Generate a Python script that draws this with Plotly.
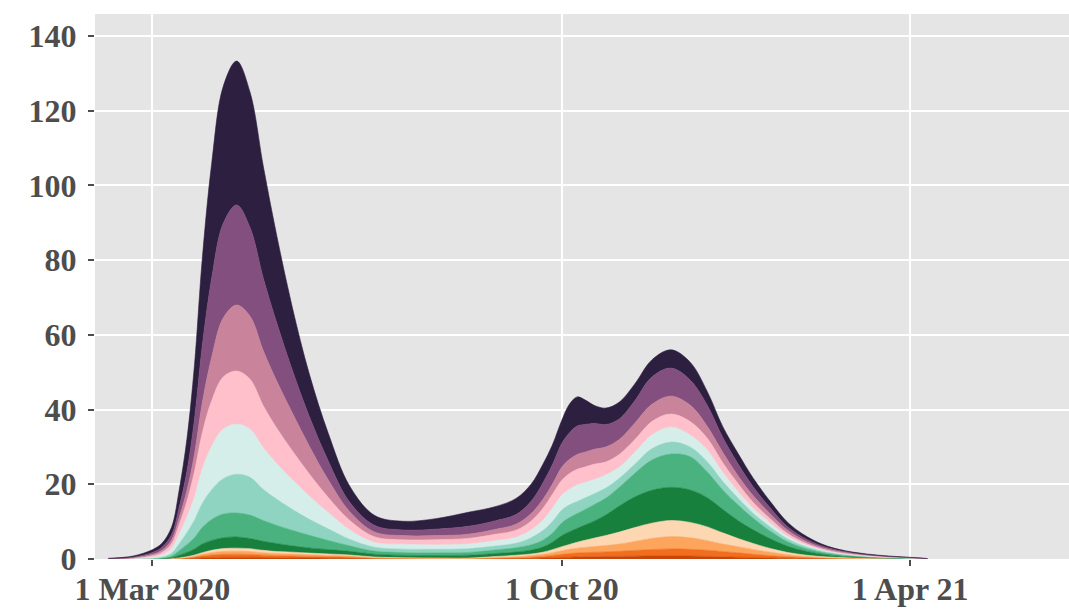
import plotly.graph_objects as go

# sample dates (spacing grows gradually where the curves are flat)
dates = [
    "2020-02-07", "2020-02-20", "2020-03-01", "2020-03-06", "2020-03-11", "2020-03-15",
    "2020-03-19", "2020-03-23", "2020-03-27", "2020-04-01", "2020-04-07", "2020-04-14",
    "2020-04-21", "2020-04-28", "2020-05-05", "2020-05-13", "2020-05-22", "2020-06-01",
    "2020-06-12", "2020-06-25", "2020-07-10", "2020-07-27", "2020-08-13",
    "2020-08-27", "2020-09-07", "2020-09-15", "2020-09-21", "2020-09-26", "2020-10-01",
    "2020-10-05", "2020-10-09", "2020-10-13", "2020-10-18", "2020-10-24", "2020-10-31",
    "2020-11-08", "2020-11-17", "2020-11-27", "2020-12-07", "2020-12-16", "2020-12-24",
    "2021-01-01", "2021-01-09", "2021-01-18", "2021-01-27", "2021-02-06", "2021-02-17",
    "2021-03-02", "2021-03-17", "2021-04-01", "2021-04-10",
]

# stacked series, bottom -> top
group_1 = [0, 0, 0, 0.005, 0.02, 0.05, 0.1, 0.18, 0.3, 0.4, 0.48, 0.5, 0.47, 0.4, 0.33, 0.3, 0.26, 0.22, 0.18, 0.09, 0.06, 0.05, 0.05,
           0.07, 0.1, 0.18, 0.27, 0.35, 0.45, 0.5, 0.55, 0.6, 0.62, 0.65, 0.7, 0.75, 0.8, 0.8, 0.78, 0.68, 0.58, 0.48, 0.4, 0.3, 0.2, 0.12, 0.06, 0.03, 0.01, 0, 0]
group_2 = [0, 0, 0, 0.005, 0.02, 0.07, 0.17, 0.3, 0.48, 0.65, 0.76, 0.8, 0.75, 0.63, 0.55, 0.51, 0.44, 0.38, 0.3, 0.14, 0.09, 0.07, 0.06,
           0.13, 0.2, 0.32, 0.43, 0.6, 0.8, 0.95, 1.05, 1.1, 1.18, 1.25, 1.35, 1.55, 1.75, 1.9, 1.82, 1.67, 1.42, 1.17, 0.85, 0.6, 0.4, 0.26, 0.14, 0.07, 0.03, 0.01, 0]
group_3 = [0, 0, 0, 0.008, 0.02, 0.08, 0.16, 0.28, 0.46, 0.65, 0.76, 0.8, 0.76, 0.63, 0.56, 0.52, 0.45, 0.37, 0.3, 0.15, 0.1, 0.07, 0.07,
           0.2, 0.3, 0.4, 0.55, 0.75, 0.95, 1.15, 1.3, 1.4, 1.55, 1.7, 1.95, 2.4, 2.95, 3.3, 3.1, 2.55, 2.0, 1.65, 1.3, 0.9, 0.55, 0.3, 0.16, 0.08, 0.04, 0.02, 0]
group_4 = [0, 0, 0.01, 0.007, 0.02, 0.08, 0.15, 0.28, 0.44, 0.63, 0.78, 0.8, 0.77, 0.65, 0.55, 0.5, 0.43, 0.37, 0.3, 0.15, 0.1, 0.08, 0.07,
           0.25, 0.4, 0.45, 0.55, 0.8, 1.1, 1.3, 1.6, 1.9, 2.25, 2.7, 3.2, 3.7, 4.1, 4.3, 4.1, 3.7, 3.0, 2.2, 1.6, 1.0, 0.6, 0.32, 0.19, 0.1, 0.05, 0.02, 0.01]
group_5 = [0, 0, 0.02, 0.06, 0.26, 0.74, 1.18, 1.66, 2.32, 2.65, 2.91, 3.0, 2.75, 2.42, 2.16, 1.69, 1.39, 1.17, 0.98, 0.76, 0.66, 0.65, 0.75,
           0.8, 0.85, 1.05, 1.4, 2.0, 3.0, 3.4, 3.7, 4.1, 4.6, 5.5, 7.0, 8.2, 8.8, 8.9, 8.7, 7.8, 6.3, 4.8, 3.65, 2.6, 1.65, 1.0, 0.55, 0.27, 0.13, 0.06, 0.01]
group_6 = [0, 0.01, 0.02, 0.13, 0.43, 1.2, 2.08, 3.02, 4.4, 5.62, 6.33, 6.4, 6.25, 5.56, 4.85, 4.19, 3.37, 2.45, 1.47, 0.82, 0.71, 0.7, 0.75,
           0.95, 1.15, 1.4, 1.8, 2.4, 3.4, 3.8, 4.0, 4.1, 4.4, 4.5, 5.0, 6.3, 8.1, 8.9, 8.9, 6.9, 5.2, 4.2, 3.1, 2.0, 1.2, 0.7, 0.4, 0.23, 0.12, 0.06, 0.01]
group_7 = [0, 0.01, 0.1, 0.29, 0.76, 1.85, 3.2, 4.68, 6.4, 7.95, 9.48, 10.4, 10.13, 8.3, 7.0, 5.61, 4.3, 3.08, 1.76, 1.05, 0.91, 0.97, 1.0,
           1.05, 1.2, 1.9, 2.6, 3.1, 3.4, 3.4, 3.2, 3.1, 2.9, 2.7, 2.4, 2.4, 3.0, 3.2, 2.6, 2.7, 2.3, 1.8, 1.3, 1.1, 0.75, 0.5, 0.3, 0.17, 0.09, 0.04, 0.01]
group_8 = [0.01, 0.06, 0.3, 0.59, 1.27, 2.59, 4.16, 6.24, 9.2, 11.66, 13.29, 13.4, 12.87, 11.13, 9.52, 7.97, 6.19, 4.36, 2.55, 1.29, 1.31, 1.19, 1.25,
           1.45, 1.6, 2.1, 2.7, 3.6, 4.0, 4.2, 4.4, 4.2, 3.8, 3.5, 3.0, 3.2, 3.7, 4.0, 3.2, 3.2, 2.4, 1.8, 1.4, 1.1, 0.75, 0.45, 0.25, 0.15, 0.08, 0.04, 0.01]
group_9 = [0.02, 0.14, 0.4, 0.67, 1.28, 2.59, 4.16, 6.76, 9.6, 12.19, 13.91, 14.2, 13.38, 11.23, 9.51, 7.78, 5.94, 4.02, 2.55, 1.52, 1.21, 1.4, 1.5,
           1.7, 1.9, 2.4, 3.2, 3.7, 4.0, 4.2, 4.2, 4.1, 4.1, 3.5, 3.4, 3.4, 3.6, 3.5, 3.6, 3.1, 2.6, 2.1, 1.5, 1.1, 0.7, 0.45, 0.25, 0.15, 0.08, 0.04, 0.01]
group_10 = [0.03, 0.12, 0.4, 0.59, 1.02, 1.85, 2.88, 4.68, 8.0, 11.66, 15.82, 17.7, 16.87, 14.7, 12.55, 10.14, 7.43, 4.68, 2.35, 1.28, 1.11, 1.08, 1.13,
            1.3, 1.6, 2.0, 2.4, 2.7, 3.5, 3.8, 4.0, 4.0, 4.0, 4.0, 4.0, 4.4, 4.6, 4.8, 4.4, 3.2, 2.8, 2.1, 1.8, 1.3, 0.9, 0.55, 0.35, 0.2, 0.1, 0.05, 0.02]
group_11 = [0.04, 0.16, 0.5, 0.76, 1.36, 2.78, 5.12, 9.36, 15.2, 21.2, 25.3, 26.8, 23.75, 19.43, 15.57, 11.49, 7.92, 5.03, 2.55, 1.76, 1.52, 1.73, 2.12,
            2.3, 2.6, 3.3, 4.4, 5.2, 6.4, 7.1, 7.6, 7.4, 6.9, 6.0, 5.5, 6.0, 7.3, 7.5, 6.7, 5.6, 4.0, 3.2, 2.4, 1.6, 0.9, 0.6, 0.35, 0.18, 0.1, 0.05, 0.02]
group_12 = [0.1, 0.3, 0.75, 1.09, 2.04, 4.62, 8.64, 14.56, 23.2, 30.74, 36.68, 38.5, 36.25, 29.92, 23.35, 16.9, 11.38, 7.37, 4.31, 2.69, 2.32, 2.81, 3.75,
            3.8, 4.3, 4.6, 5.0, 5.3, 6.2, 7.7, 7.8, 6.6, 4.8, 4.4, 4.5, 4.5, 4.6, 4.9, 4.8, 3.7, 2.9, 2.8, 2.3, 1.7, 1.2, 0.75, 0.4, 0.22, 0.12, 0.06, 0.03]

series = [group_1, group_2, group_3, group_4, group_5, group_6,
          group_7, group_8, group_9, group_10, group_11, group_12]
colors = ["#c8460b", "#f26d1c", "#fda45d", "#fdd7b1", "#17803c", "#49b27e",
          "#8fd4c0", "#d5eeea", "#ffc0cb", "#c9849c", "#834f7e", "#2d1f3f"]

tick_dates = ["2020-03-01", "2020-10-01", "2021-04-01"]
tick_text = ["1 Mar 2020", "1 Oct 20", "1 Apr 21"]

fig = go.Figure()
for i, (vals, col) in enumerate(zip(series, colors)):
    fig.add_trace(go.Scatter(
        x=dates, y=vals, name=f"Group {i + 1}",
        mode="lines", stackgroup="one",
        line=dict(shape="spline", smoothing=1.0, width=0.6, color=col),
        fillcolor=col,
    ))

tick_font = dict(family="Liberation Serif", size=32, color="#4d4d4d", weight="bold")

fig.update_layout(
    width=1069, height=615,
    margin=dict(l=95, r=0, t=14, b=56),
    paper_bgcolor="white",
    plot_bgcolor="#e5e5e5",
    showlegend=False,
    xaxis=dict(
        range=["2020-01-31", "2021-06-23"],
        tickvals=tick_dates, ticktext=tick_text,
        showgrid=True, gridcolor="white", gridwidth=1.8,
        ticks="outside", ticklen=6, tickwidth=1.5, tickcolor="#4d4d4d",
        ticklabelstandoff=-4,
        tickfont=tick_font, zeroline=False, showline=False,
    ),
    yaxis=dict(
        range=[0, 145.9],
        tickvals=[0, 20, 40, 60, 80, 100, 120, 140],
        showgrid=True, gridcolor="white", gridwidth=1.8,
        ticks="outside", ticklen=6, tickwidth=1.5, tickcolor="#4d4d4d",
        ticklabelstandoff=5,
        tickfont=tick_font, zeroline=False, showline=False,
    ),
)

# the page's default body margin would shift the fixed-size figure by 8px
fig.write_html("out.html", config={"displayModeBar": False},
               post_script="document.body.style.margin = '0';")
